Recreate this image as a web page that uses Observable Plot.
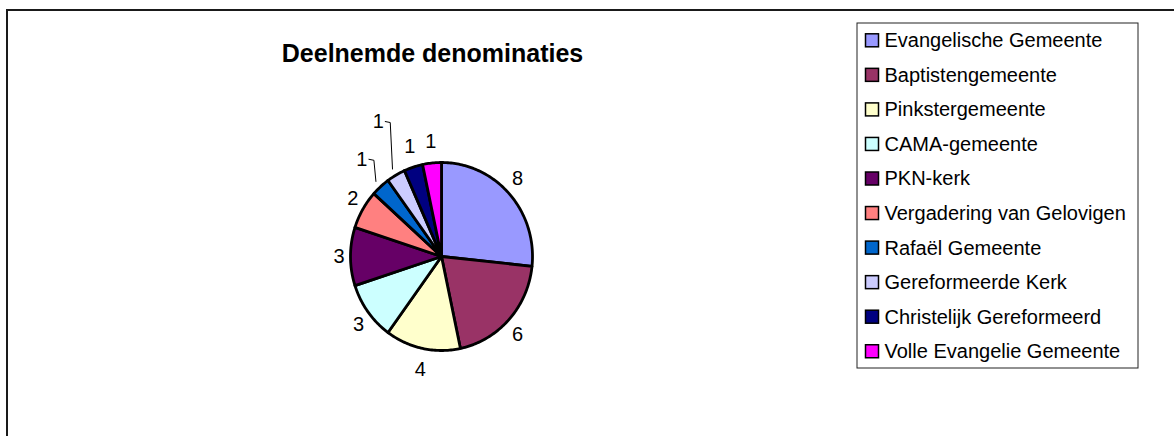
<!DOCTYPE html>
<html><head><meta charset="utf-8">
<script src="https://cdn.jsdelivr.net/npm/d3@7"></script>
<script src="https://cdn.jsdelivr.net/npm/@observablehq/plot@0.6"></script>
<style>body{margin:0;background:#fff;overflow:hidden}</style>
</head><body><div id="chart"></div>
<script>
// ---- data ----
const title = "Deelnemde denominaties";
const denominations = [
  "Evangelische Gemeente",
  "Baptistengemeente",
  "Pinkstergemeente",
  "CAMA-gemeente",
  "PKN-kerk",
  "Vergadering van Gelovigen",
  "Rafaël Gemeente",
  "Gereformeerde Kerk",
  "Christelijk Gereformeerd",
  "Volle Evangelie Gemeente"
];
const counts = [8, 6, 4, 3, 3, 2, 1, 1, 1, 1];
const colors = ["#9999FF","#993366","#FFFFCC","#CCFFFF","#660066","#FF8080","#0066CC","#CCCCFF","#000080","#FF00FF"];

// ---- layout ----
const W = 1174, H = 436;
const cx = 441, cy = 256, rx = 91, ry = 94;
const labelNudge = {"Rafaël Gemeente": [-11, -11], "Gereformeerde Kerk": [-12, -34.5]};
const font = "'Liberation Sans', Arial, Helvetica, sans-serif";

const pie = d3.pie().sort(null).value(d => d)(counts);

const slicePts = [];
pie.forEach((p, i) => {
  const name = denominations[i];
  slicePts.push({name, x: cx, y: cy});
  const n = Math.max(2, Math.ceil((p.endAngle - p.startAngle) / (Math.PI / 180)));
  for (let k = 0; k <= n; k++) {
    const a = p.startAngle + (p.endAngle - p.startAngle) * k / n;
    slicePts.push({name, x: cx + rx * Math.sin(a), y: cy - ry * Math.cos(a)});
  }
  slicePts.push({name, x: cx, y: cy});
});

const labels = [];
const leaders = [];
pie.forEach((p, i) => {
  const name = denominations[i];
  const a = (p.startAngle + p.endAngle) / 2;
  const s = Math.sin(a), c = Math.cos(a);
  const ex = cx + rx * s, ey = cy - ry * c;
  let lx = ex + 11.5 * s, ly = ey - 22 * c;
  const nd = labelNudge[name];
  if (nd) {
    lx += nd[0]; ly += nd[1];
    leaders.push({name, x: lx + 7, y: ly});
    leaders.push({name, x: lx + 12, y: ly + 1});
    leaders.push({name, x: cx + (rx + 7) * s, y: cy - (ry + 7) * c});
  }
  labels.push({name, value: counts[i], x: lx, y: ly});
});

const rowH = 34.55, row0 = 40.3;
const legend = denominations.map((d, i) => ({name: d, y: row0 + i * rowH}));

const chart = Plot.plot({
  width: W, height: H,
  margin: 0,
  x: {domain: [0, W], range: [0, W], axis: null},
  y: {domain: [0, H], range: [0, H], axis: null},
  color: {type: "ordinal", domain: denominations, range: colors},
  style: {fontFamily: font, background: "white", color: "black"},
  marks: [
    Plot.rect([0], {x1: 7, y1: 10, x2: W + 10, y2: H + 10, fill: "none", stroke: "#1a1a1a", strokeWidth: 2}),
    Plot.text([title], {x: 432, y: 53.7, text: d => d, fontSize: 25, fontWeight: "bold", fill: "black"}),
    Plot.line(slicePts, {x: "x", y: "y", z: "name", fill: "name", stroke: "black", strokeWidth: 2.8, strokeLinejoin: "round", curve: "linear"}),
    Plot.line(leaders, {x: "x", y: "y", z: "name", stroke: "black", strokeWidth: 1, curve: "linear"}),
    Plot.text(labels, {x: "x", y: "y", text: "value", fontSize: 20, fill: "black"}),
    Plot.rect([0], {x1: 857, y1: 23, x2: 1138, y2: 368, fill: "white", stroke: "#222", strokeWidth: 1}),
    Plot.rect(legend, {x1: 865.5, x2: 878.5, y1: d => d.y - 6.5, y2: d => d.y + 6.5, fill: "name", stroke: "black", strokeWidth: 1.5}),
    Plot.text(legend, {x: 884, y: "y", text: "name", textAnchor: "start", fontSize: 20, fill: "black"})
  ]
});
document.getElementById("chart").append(chart);
</script>
</body></html>
